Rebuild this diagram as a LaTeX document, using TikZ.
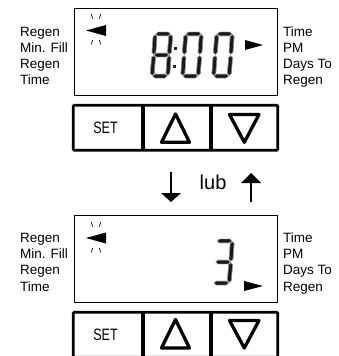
\documentclass[tikz,border=0pt]{standalone}
\usepackage{fontspec}
\setmainfont{Liberation Sans}
\begin{document}
\begin{tikzpicture}[x=1pt,y=1pt,
  lbl/.style={anchor=base west,inner sep=0pt,font=\fontsize{13.5}{16}\selectfont},
  frame/.style={draw=black,line width=1.2pt},
  seg/.style={fill=black!90,draw=black!45,line width=0.4pt},
  ind/.style={fill=black},
  tick/.style={draw=black,line width=0.7pt},
  btnout/.style={draw=black,line width=2.8pt,rounded corners=1pt},
  btnsep/.style={draw=black,line width=4.5pt},
  tri/.style={draw=black,line width=3.3pt,line join=round},
  arr/.style={draw=black,line width=2pt}]
\useasboundingbox (0,0) rectangle (339,-356);
\clip (0,0) rectangle (339,-356);
\def\T{3.9}\def\G{0.7}\def\W{19.5}\def\H{46}
\def\hseg#1#2#3{\fill[seg] ({#2},{#1}) -- ({#2+\T/2},{#1+\T/2}) -- ({#3-\T/2},{#1+\T/2}) -- ({#3},{#1}) -- ({#3-\T/2},{#1-\T/2}) -- ({#2+\T/2},{#1-\T/2}) -- cycle;
  \draw[seg,fill=none] ({#2},{#1}) -- ({#2+\T/2},{#1+\T/2}) -- ({#3-\T/2},{#1+\T/2}) -- ({#3},{#1}) -- ({#3-\T/2},{#1-\T/2}) -- ({#2+\T/2},{#1-\T/2}) -- cycle;}
\def\vseg#1#2#3{\fill[seg] ({#1},{#2}) -- ({#1+\T/2},{#2+\T/2}) -- ({#1+\T/2},{#3-\T/2}) -- ({#1},{#3}) -- ({#1-\T/2},{#3-\T/2}) -- ({#1-\T/2},{#2+\T/2}) -- cycle;
  \draw[seg,fill=none] ({#1},{#2}) -- ({#1+\T/2},{#2+\T/2}) -- ({#1+\T/2},{#3-\T/2}) -- ({#1},{#3}) -- ({#1-\T/2},{#3-\T/2}) -- ({#1-\T/2},{#2+\T/2}) -- cycle;}
% segments
\def\sa{\hseg{\H-\T/2}{\T/2+\G}{\W-\T/2-\G}}
\def\sb{\vseg{\W-\T/2}{\H/2+\G}{\H-\T/2-\G}}
\def\sc{\vseg{\W-\T/2}{\T/2+\G}{\H/2-\G}}
\def\sd{\hseg{\T/2}{\T/2+\G}{\W-\T/2-\G}}
\def\se{\vseg{\T/2}{\T/2+\G}{\H/2-\G}}
\def\sf{\vseg{\T/2}{\H/2+\G}{\H-\T/2-\G}}
\def\sg{\hseg{\H/2}{\T/2+\G}{\W-\T/2-\G}}
\def\digit#1#2#3{\begin{scope}[shift={(#1,-#2)},xslant=0.075] #3 \end{scope}}
% ================= top display =================
\node[draw=none,inner sep=0pt,minimum width=203pt,minimum height=87pt,frame,anchor=north west] (disp1) at (74,-8) {};
\foreach \t/\yy in {Regen/36.7,Min. Fill/52.3,Regen/68.2,Time/84.3}
  \node[lbl] at (20,-\yy) {\t};
\node[lbl] (r1a) at (283,-36.7) {Time};
\node[lbl] (r1b) at (283,-52.3) {PM};
\node[lbl] (r1c) at (283,-68.2) {Days To};
\node[lbl] (r1d) at (283,-84.3) {Regen};
% left indicator
\fill[ind] (86,-30.5) -- (106,-25) -- (106,-36) -- cycle;
\draw[tick] (91.3,-14) -- (92.6,-18.5) (100.7,-14) -- (99.4,-18.5);
\draw[tick] (92.6,-40) -- (91.3,-44.5) (99.4,-40) -- (100.7,-44.5);
% digits 8:00
\digit{150}{78}{\sa\sb\sc\sd\se\sf\sg}
\digit{180.5}{78}{\sa\sb\sc\sd\se\sf}
\digit{211.5}{78}{\sa\sb\sc\sd\se\sf}
\fill[black!85] (173.5,-47) rectangle ++(3.2,-3.2);
\fill[black!85] (172.8,-65) rectangle ++(3.2,-3.2);
% right indicator
\fill[ind] (245,-40) -- (263,-45) -- (245,-50) -- cycle;
% buttons 1
\draw[btnout] (73.3,-105.3) rectangle (277.7,-150.3);
\draw[btnsep] (143,-105.3) -- (143,-150.3);
\draw[btnsep] (211,-105.3) -- (211,-150.3);
\node[inner sep=0pt,font=\fontsize{16.5}{16}\selectfont] (set1) at (105.5,-127.5) {\scalebox{0.76}[1]{SET}};
\draw[tri] (175.5,-114) -- (189.5,-142.3) -- (161.5,-142.3) -- cycle;
\draw[tri] (229.5,-114.5) -- (259,-114.5) -- (244.3,-142.3) -- cycle;
% arrows and lub
\coordinate (d0) at (171,-172);
\coordinate (d1) at (171,-202);
\coordinate (u0) at (251,-202);
\coordinate (u1) at (251,-173);
\fill (d1) -- ++(-10,9) -- ++(20,0) -- cycle;
\draw[arr] (d0) -- (171,-194);
\fill (u1) -- ++(-10,-10) -- ++(20,0) -- cycle;
\draw[arr] (u0) -- (251,-182);
\node[inner sep=0pt,anchor=base west,font=\fontsize{20}{20}\selectfont] (lub) at (199.5,-189.5) {lub};
% ================= bottom display =================
\node[draw=none,inner sep=0pt,minimum width=203pt,minimum height=87pt,frame,anchor=north west] (disp2) at (74,-215) {};
\foreach \t/\yy in {Regen/242.3,Min. Fill/258.5,Regen/274.8,Time/291}
  \node[lbl] at (20,-\yy) {\t};
\node[lbl] (r2a) at (283,-242.3) {Time};
\node[lbl] (r2b) at (283,-258.5) {PM};
\node[lbl] (r2c) at (283,-274.8) {Days To};
\node[lbl] (r2d) at (283,-291) {Regen};
\fill[ind] (86,-238) -- (106,-232.5) -- (106,-243.5) -- cycle;
\draw[tick] (91.3,-222) -- (92.6,-226.5) (100.7,-222) -- (99.4,-226.5);
\draw[tick] (92.6,-248) -- (91.3,-252.5) (99.4,-248) -- (100.7,-252.5);
\digit{211.5}{285}{\sa\sb\sc\sd\sg}
\fill[ind] (244,-281) -- (263,-286) -- (244,-291) -- cycle;
% buttons 2
\draw[btnout] (73.3,-312.3) rectangle (277.7,-357.3);
\draw[btnsep] (143,-312.3) -- (143,-357.3);
\draw[btnsep] (211,-312.3) -- (211,-357.3);
\node[inner sep=0pt,font=\fontsize{16.5}{16}\selectfont] (set2) at (105.5,-334.5) {\scalebox{0.76}[1]{SET}};
\draw[tri] (175.5,-319.5) -- (189.5,-348) -- (161.5,-348) -- cycle;
\draw[tri] (229.5,-320.5) -- (259,-320.5) -- (244.3,-348) -- cycle;
\end{tikzpicture}
\end{document}
